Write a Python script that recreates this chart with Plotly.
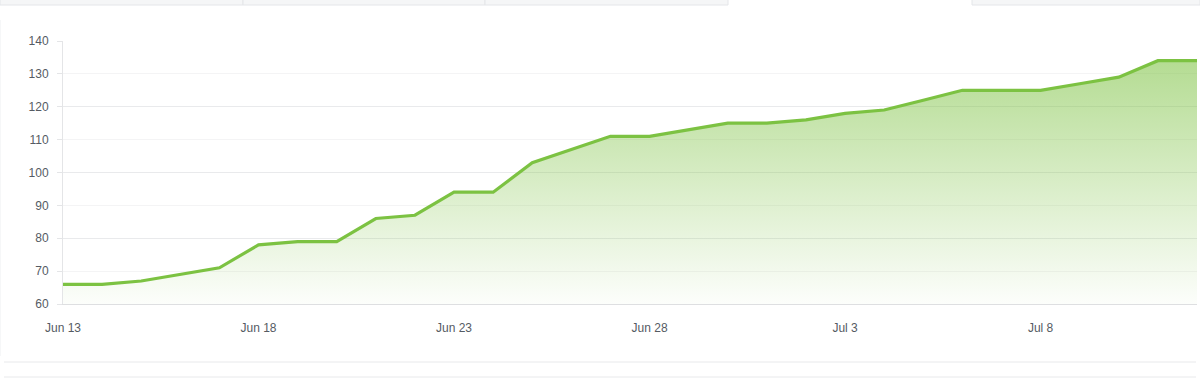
import plotly.graph_objects as go

dates = ["2024-06-13", "2024-06-14", "2024-06-15", "2024-06-16", "2024-06-17",
         "2024-06-18", "2024-06-19", "2024-06-20", "2024-06-21", "2024-06-22",
         "2024-06-23", "2024-06-24", "2024-06-25", "2024-06-26", "2024-06-27",
         "2024-06-28", "2024-06-29", "2024-06-30", "2024-07-01", "2024-07-02",
         "2024-07-03", "2024-07-04", "2024-07-05", "2024-07-06", "2024-07-07",
         "2024-07-08", "2024-07-09", "2024-07-10", "2024-07-11", "2024-07-12"]
values = [66, 66, 67, 69, 71,
          78, 79, 79, 86, 87,
          94, 94, 103, 107, 111,
          111, 113, 115, 115, 116,
          118, 119, 122, 125, 125,
          125, 127, 129, 134, 134]

LINE = "#7cc242"
W, H = 1200, 389
L, R, T, B = 63, 3, 41, 85
pw, ph = W - L - R, H - T - B


def px(x):
    return (x - L) / pw


def py(y):
    return (H - B - y) / ph


fig = go.Figure()
fig.add_trace(go.Scatter(
    x=dates, y=values, mode="lines",
    line=dict(color=LINE, width=3.2),
    fill="tozeroy",
    fillgradient=dict(type="vertical", start=60, stop=140,
                      colorscale=[[0, "rgba(125,194,66,0.02)"],
                                  [1, "rgba(125,194,66,0.62)"]]),
    hoverinfo="skip", showlegend=False,
))
fig.add_trace(go.Scatter(x=[dates[0]], y=[60], yaxis="y2", mode="lines",
                         showlegend=False, hoverinfo="skip",
                         line=dict(color="rgba(0,0,0,0)")))

shapes = []
# top tabs strip
for x0, x1 in [(0, 243), (243, 485), (485, 728), (972, 1200)]:
    shapes.append(dict(type="rect", xref="paper", yref="paper",
                       x0=px(x0), x1=px(x1), y0=py(5), y1=py(-1),
                       fillcolor="#f5f6f7", line=dict(color="#e4e6e9", width=1),
                       layer="below"))
# card bottom border and next card top border
shapes.append(dict(type="line", xref="paper", yref="paper",
                   x0=px(4), x1=px(1196), y0=py(362), y1=py(362),
                   line=dict(color="#e8e9eb", width=1)))
shapes.append(dict(type="line", xref="paper", yref="paper",
                   x0=px(0), x1=px(0), y0=py(356), y1=py(20),
                   line=dict(color="#eeeff1", width=1)))
shapes.append(dict(type="line", xref="paper", yref="paper",
                   x0=px(4), x1=px(1196), y0=py(377), y1=py(377),
                   line=dict(color="#e8e9eb", width=1)))

font = dict(family="Liberation Sans, Arial, sans-serif", size=12, color="#555b63")

fig.update_layout(
    width=W, height=H,
    margin=dict(l=L, r=R, t=T, b=B),
    paper_bgcolor="white", plot_bgcolor="white",
    font=font,
    shapes=shapes,
    xaxis=dict(
        type="date", range=["2024-06-13", "2024-07-12"],
        tick0="2024-06-13", dtick=5 * 86400000, tickformat="%b %-d",
        showgrid=False, zeroline=False,
        showline=True, linecolor="#dedfe1", linewidth=1,
        ticks="", ticklabelstandoff=13,
        tickfont=font,
    ),
    yaxis=dict(
        range=[60, 140], dtick=10, tick0=60,
        showgrid=True, gridcolor="#f4f4f5", gridwidth=1,
        zeroline=False,
        showline=True, linecolor="#e4e5e7", linewidth=1,
        ticks="outside", ticklen=5, tickcolor="#e4e5e7",
        ticklabelstandoff=6,
        tickfont=font,
    ),
    yaxis2=dict(
        range=[60, 140], dtick=20, tick0=60, overlaying="y",
        showgrid=True, gridcolor="#e9eaec", gridwidth=1,
        showticklabels=False, zeroline=False, showline=False, ticks="",
    ),
    hovermode=False,
)

fig.write_html("out.html",
               config={"displayModeBar": False, "staticPlot": True},
               post_script="document.body.style.margin='0';document.body.style.overflow='hidden';")
